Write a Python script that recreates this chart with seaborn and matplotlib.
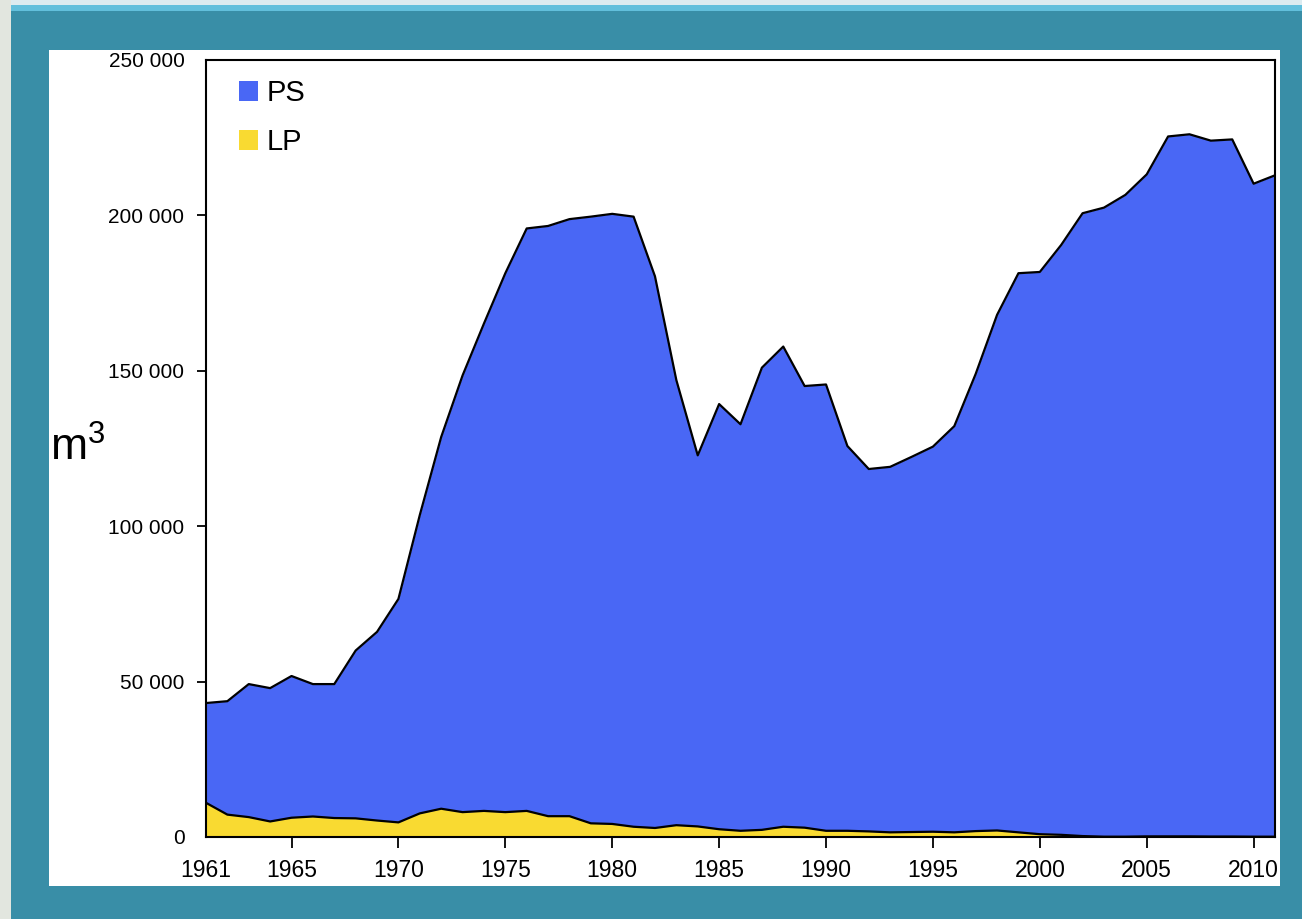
import pandas as pd
import matplotlib.pyplot as plt
import seaborn as sns
from matplotlib.patches import Rectangle, Patch
from matplotlib.ticker import FuncFormatter

years = list(range(1961, 2012))

lp = [11000, 7200, 6400, 5000, 6200, 6600, 6100, 6000, 5300, 4700,
      7600, 9100, 8000, 8400, 8000, 8400, 6700, 6700, 4400, 4200,
      3300, 2900, 3800, 3400, 2500, 2000, 2300, 3300, 3000, 2000,
      2000, 1800, 1500, 1600, 1700, 1500, 1900, 2100, 1500, 900,
      700, 300, 100, 100, 200, 200, 200, 150, 150, 100,
      100]

ps = [32100, 36500, 42800, 42900, 45600, 42600, 43100, 54000, 60700, 71900,
      96000, 119600, 140500, 156800, 173400, 187400, 189900, 192100, 195200, 196300,
      196300, 177500, 143200, 119400, 136800, 130800, 148700, 154500, 142100, 143600,
      123800, 116600, 117600, 120700, 123900, 130700, 147100, 165900, 179900, 180900,
      189800, 200400, 202400, 206500, 213000, 225200, 225900, 223900, 224300, 210100,
      212800]

x_ticks = [1961, 1965, 1970, 1975, 1980, 1985, 1990, 1995, 2000, 2005, 2010]
y_ticks = [0, 50000, 100000, 150000, 200000, 250000]

blue = '#4967F5'
yellow = '#F9DA31'
teal = '#398EA7'

sns.set_style('ticks')
plt.rcParams['font.family'] = ['Liberation Sans', 'DejaVu Sans']
plt.rcParams['mathtext.default'] = 'regular'
plt.rcParams['text.color'] = 'black'
plt.rcParams['axes.labelcolor'] = 'black'
plt.rcParams['xtick.color'] = 'black'
plt.rcParams['ytick.color'] = 'black'

df = pd.DataFrame({'year': years, 'LP': lp, 'PS': ps})
df['top'] = df['LP'] + df['PS']

fig = plt.figure(figsize=(13.02, 9.19), dpi=100, facecolor=teal)
# frame decoration, kept under the axes
fig.patches.append(Rectangle((0, 1 - 5 / 919), 1, 5 / 919, transform=fig.transFigure,
                             facecolor='#dcebf0', edgecolor='none', zorder=-3))
fig.patches.append(Rectangle((11 / 1302, 1 - 11 / 919), 1, 6 / 919, transform=fig.transFigure,
                             facecolor='#62bfdc', edgecolor='none', zorder=-3))
fig.patches.append(Rectangle((0, 0), 11 / 1302, 1, transform=fig.transFigure,
                             facecolor='#e2e6df', edgecolor='none', zorder=-3))
fig.patches.append(Rectangle((49 / 1302, 1 - 886 / 919), 1231 / 1302, 836 / 919,
                             transform=fig.transFigure, facecolor='white',
                             edgecolor='none', zorder=-2))

ax = fig.add_axes([206 / 1302, 1 - 837 / 919, 1069 / 1302, 777 / 919])
ax.set_facecolor('white')

ax.stackplot(df['year'], df['LP'], df['PS'], colors=[yellow, blue], linewidth=0)
sns.lineplot(data=df, x='year', y='LP', color='black', linewidth=1.6, ax=ax)
sns.lineplot(data=df, x='year', y='top', color='black', linewidth=1.6, ax=ax)

ax.set_xlim(1961, 2011)
ax.set_ylim(0, 250000)
ax.set_xticks(x_ticks)
ax.set_yticks(y_ticks)
ax.yaxis.set_major_formatter(FuncFormatter(lambda v, p: f"{int(v):,}".replace(',', ' ')))
ax.tick_params(axis='y', labelsize=15, length=6.5, width=1.3, pad=9)
ax.tick_params(axis='x', labelsize=16.5, length=8, width=1.3, pad=8)
for t in [ax.yaxis.get_major_ticks()[0], ax.yaxis.get_major_ticks()[-1],
          ax.xaxis.get_major_ticks()[0]]:
    t.tick1line.set_visible(False)

for s in ax.spines.values():
    s.set_visible(True)
    s.set_color('black')
    s.set_linewidth(1.5)

ax.set_xlabel('')
ax.set_ylabel('m$^3$', fontsize=32, rotation=0, ha='left', va='baseline')
ax.yaxis.set_label_coords(-0.146, 0.484)

handles = [Patch(facecolor=blue, edgecolor='none', label='PS'),
           Patch(facecolor=yellow, edgecolor='none', label='LP')]
ax.legend(handles=handles, loc='upper left', bbox_to_anchor=(0.031, 0.975),
          frameon=False, fontsize=21, handlelength=0.65, handleheight=0.7,
          handletextpad=0.3, labelspacing=0.72, borderpad=0, borderaxespad=0)

fig.savefig('out.png', dpi=100, facecolor=teal)
